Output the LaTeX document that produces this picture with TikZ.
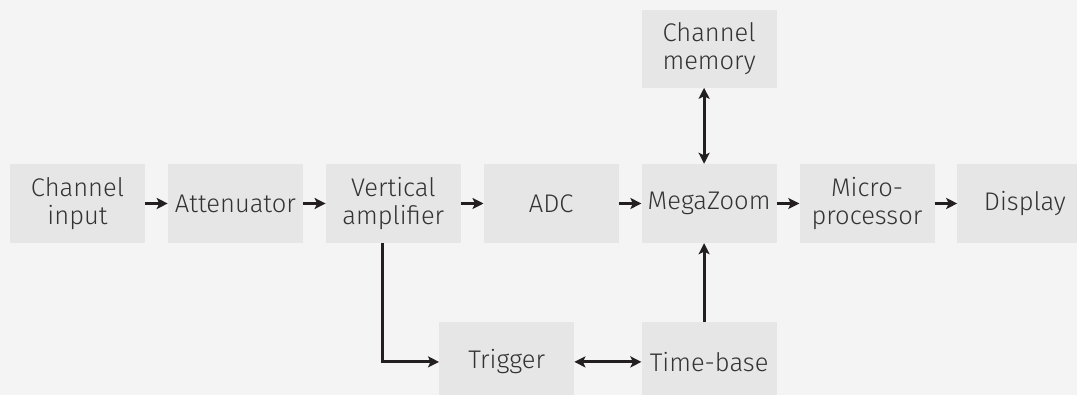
\documentclass[tikz,border=0pt]{standalone}
\usepackage{fontspec}
\setmainfont{Fira Sans Light}
\usepackage{tikz}
\usetikzlibrary{positioning}
\usetikzlibrary{arrows.meta}
\definecolor{bggray}{HTML}{F4F4F4}
\definecolor{boxgray}{HTML}{E6E6E7}
\definecolor{txtgray}{HTML}{333333}
\definecolor{arrgray}{HTML}{231F20}

\begin{document}
\begin{tikzpicture}[x=1pt,y=1pt,
  blk/.style={fill=boxgray, text=txtgray, minimum width=135pt, minimum height=79pt,
    inner sep=0pt, align=center, font=\fontsize{25.5}{27.5}\selectfont},
  conn/.style={draw=arrgray, line width=2.8pt, >={Stealth[length=11pt,width=11pt,inset=2.5pt]}}]
\useasboundingbox (0,0) rectangle (1077,-395);
\clip (0,0) rectangle (1077,-395);
\fill[bggray] (0,0) rectangle (1077,-395);
% main chain
\node[blk] (inp) at (77.5,-203.5) {Channel\\input};
\node[blk, right=22.5pt of inp] (att) {Attenuator};
\node[blk, right=22.5pt of att] (amp) {Vertical\\amplifier};
\node[blk, right=22.5pt of amp] (adc) {ADC};
\node[blk, right=22.5pt of adc] (mz) {MegaZoom};
\node[blk, right=22.5pt of mz] (mp) {Micro-\\processor};
\node[blk, right=22.5pt of mp] (disp) {Display};
% memory and timing
\node[blk, above=76pt of mz, minimum height=78pt] (mem) {Channel\\memory};
\node[blk, below=79pt of mz] (tb) {Time-base};
\node[blk, left=67pt of tb] (trig) {Trigger};
\draw[conn,->] (inp) -- (att);
\draw[conn,->] (att) -- (amp);
\draw[conn,->] (amp) -- (adc);
\draw[conn,->] (adc) -- (mz);
\draw[conn,->] (mz) -- (mp);
\draw[conn,->] (mp) -- (disp);
\draw[conn,<->] ([xshift=-5pt]mem.south) -- ([xshift=-5pt]mz.north);
\draw[conn,->] ([xshift=-5pt]tb.north) -- ([xshift=-5pt]mz.south);
\draw[conn,<->] (trig) -- (tb);
\draw[conn,->] ([xshift=-10.5pt]amp.south) |- (trig.west);
\end{tikzpicture}
\end{document}
